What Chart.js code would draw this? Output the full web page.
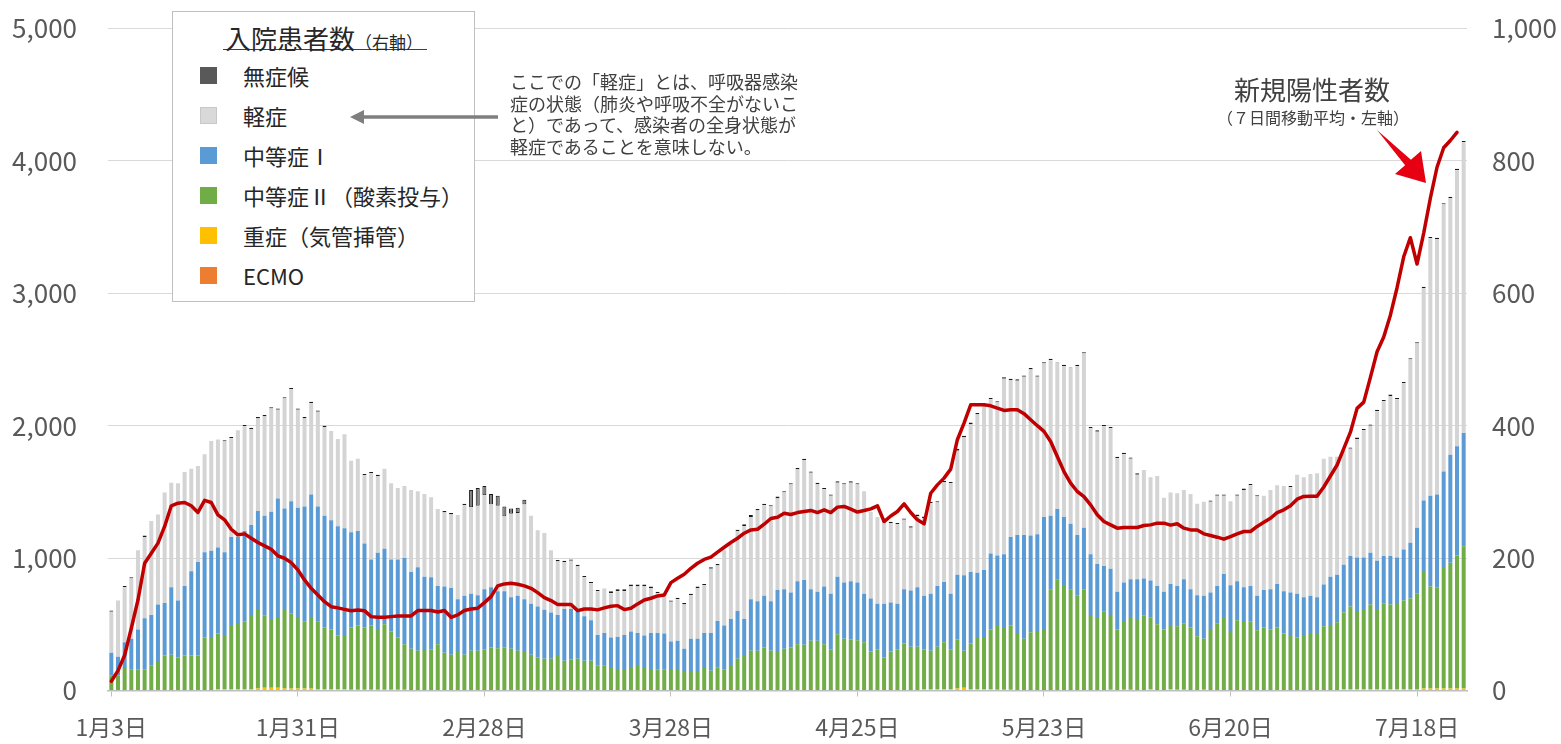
<!DOCTYPE html>
<html><head><meta charset="utf-8">
<script src="https://cdn.jsdelivr.net/npm/chart.js@4.4.1/dist/chart.umd.min.js"></script>
<style>
body{margin:0;background:#fff;}
#wrap{position:relative;width:1561px;height:744px;overflow:hidden;font-family:"Noto Sans CJK JP",sans-serif;color:#262626;}
#c{position:absolute;left:0;top:0;}
#lgbox{position:absolute;left:172px;top:11px;width:301px;height:289px;border:1.5px solid #bfbfbf;background:#fff;}
#lgtitle{position:absolute;left:223px;top:26px;width:204px;height:24px;line-height:24px;font-size:26px;border-bottom:1.5px solid #404040;padding-left:2px;box-sizing:border-box;color:#262626;white-space:nowrap;}
#lgtitle span{font-size:17px;}
.sw{position:absolute;left:200px;width:17px;height:17px;}
.lt{position:absolute;left:243px;font-size:22px;line-height:30px;height:30px;color:#262626;white-space:nowrap;}
#note{position:absolute;left:510px;top:71px;font-size:18px;line-height:21.7px;color:#404040;white-space:nowrap;}
#t1{position:absolute;left:1162px;width:300px;text-align:center;top:73px;font-size:26px;line-height:32px;color:#404040;}
#t2{position:absolute;left:1163px;width:300px;text-align:center;top:106px;font-size:16px;line-height:22px;color:#404040;}
</style></head><body>
<div id="wrap">
<canvas id="c" width="1561" height="744"></canvas>
<div id="lgbox"></div>
<div id="lgtitle">入院患者数<span>（右軸）</span></div>
<div class="sw" style="top:67px;background:#595959"></div><div class="lt" style="top:60px">無症候</div>
<div class="sw" style="top:107px;background:#d9d9d9;border:1px solid #c8c8c8;box-sizing:border-box"></div><div class="lt" style="top:100px">軽症</div>
<div class="sw" style="top:147px;background:#5b9bd5"></div><div class="lt" style="top:140px">中等症Ⅰ</div>
<div class="sw" style="top:187px;background:#70ad47"></div><div class="lt" style="top:180px">中等症Ⅱ（酸素投与）</div>
<div class="sw" style="top:227px;background:#ffc000"></div><div class="lt" style="top:220px">重症（気管挿管）</div>
<div class="sw" style="top:267px;background:#ed7d31"></div><div class="lt" style="top:260px">ECMO</div>
<div id="note">ここでの「軽症」とは、呼吸器感染<br>症の状態（肺炎や呼吸不全がないこ<br>と）であって、感染者の全身状態が<br>軽症であることを意味しない。</div>
<div id="t1">新規陽性者数</div>
<div id="t2">（７日間移動平均・左軸）</div>
<svg width="1561" height="744" style="position:absolute;left:0;top:0;pointer-events:none">
<line x1="498" y1="117" x2="362" y2="117" stroke="#7f7f7f" stroke-width="3.5"/>
<polygon points="350,117 364,110 364,124" fill="#7f7f7f"/>
<polygon points="1377,130 1405.1,165.2 1395,174 1426,183 1421,151 1410.9,159.8" fill="#e60012"/>
</svg>
</div>
<script>
// categories: daily dates from 1月3日 (204 days)
const dates = [];
for (let i = 0; i < 204; i++) { const d = new Date(2021, 0, 3 + i); dates.push((d.getMonth() + 1) + '月' + d.getDate() + '日'); }
const tickLabels = ['1月3日','1月31日','2月28日','3月28日','4月25日','5月23日','6月20日','7月18日'];

// 新規陽性者数（7日間移動平均・左軸）
const newCases = [
 70,150,266,470,684,961,1037,1113,1239,1395,1415,1420,1395,1345,1436,1420,1327,1289,1218,1176,1183,1150,1118,
 1092,1067,1017,999,966,911,835,772,722,671,633,624,613,603,608,603,558,553,553,558,563,563,
 563,604,604,604,593,604,553,571,604,616,621,664,709,790,805,810,803,790,772,739,702,679,650,
 649,649,603,616,616,609,624,636,641,611,621,654,684,697,714,722,815,848,878,923,961,990,
 1007,1045,1082,1118,1150,1188,1213,1218,1256,1299,1309,1339,1329,1344,1352,1360,1344,1365,1344,1385,1390,1370,1348,
 1359,1372,1395,1276,1318,1352,1410,1344,1289,1259,1490,1553,1604,1672,1894,2020,2158,2158,2158,2150,2133,2115,
 2121,2121,2091,2045,2000,1957,1881,1767,1654,1566,1503,1465,1402,1327,1276,1251,1226,1231,1231,1231,1246,1251,1264,
 1264,1249,1259,1226,1213,1213,1183,1171,1158,1143,1163,1183,1201,1201,1239,1270,1301,1344,1365,1395,1445,1466,
 1468,1468,1537,1620,1703,1827,1951,2131,2178,2365,2559,2670,2835,3042,3276,3420,3221,3455,3718,3952,4099,4154,4215,null
];

// 入院患者数（右軸）
const ecmo = [
 0,0,0,0,0,0,0,0,0,0,0,0,0,0,0,0,0,0,0,0,0,0,0,0,0,0,0,0,
 0,0,0,0,0,0,0,0,0,0,0,0,0,0,0,0,0,0,0,0,0,0,0,0,0,0,0,0,
 0,0,0,0,0,0,0,0,0,0,0,0,0,0,0,0,0,0,0,0,0,0,0,0,0,0,0,0,
 0,0,0,0,0,0,0,0,0,0,0,0,0,0,0,0,0,0,0,0,0,0,0,0,0,0,0,0,
 0,0,0,0,0,0,0,0,0,0,0,0,0,0,0,0,0,0,0,0,0,0,0,0,0,0,0,0,
 0,0,0,0,0,0,0,0,0,0,0,0,0,0,0,0,0,0,0,0,0,0,0,0,0,0,0,0,
 0,0,0,0,0,0,0,0,0,0,0,0,0,0,0,0,0,0,0,0,0,0,0,0,0,0,0,0,
 0,0,0,0,0,0,0,0
];
const severe = [
 0,0,0,0,0,0,0,0,0,0,0,0,0,0,0,0,2,2,2,2,2,2,3,4,4,4,3,3,
 3,3,3,2,2,2,2,2,1,1,1,1,1,1,1,1,1,0,0,0,0,0,0,0,0,0,0,0,
 0,0,0,0,0,0,0,0,0,0,0,0,0,0,0,0,0,0,0,0,0,0,0,0,0,0,0,0,
 0,0,0,0,0,0,0,0,0,0,0,0,0,0,0,0,0,0,0,0,0,0,0,0,0,0,0,0,
 0,0,0,0,0,0,0,0,0,0,2,2,2,2,2,3,4,2,2,2,2,1,1,1,0,0,0,0,
 0,0,0,0,0,0,0,0,0,0,1,0,1,1,0,0,2,0,0,2,1,1,0,0,1,0,0,0,
 0,0,0,0,0,0,0,0,0,0,0,0,0,0,0,0,0,2,2,2,2,2,2,2,2,2,2,2,
 2,3,3,3,3,3,3,3
];
const moderate2 = [
 23,23,34,32,32,32,38,43,53,54,50,53,53,53,80,81,84,82,97,100,102,112,120,
 109,104,107,120,113,108,101,108,102,93,90,81,82,94,97,94,97,92,99,88,79,69,
 63,60,61,62,70,57,54,58,54,60,60,62,65,64,65,63,60,58,54,50,48,48,
 52,45,47,48,45,45,38,38,34,31,31,34,37,34,31,32,32,31,31,28,28,28,34,
 30,35,32,37,48,52,60,60,65,60,58,63,65,70,69,75,75,70,62,85,78,77,76,
 73,59,62,50,59,62,71,66,66,60,58,64,71,60,74,56,69,79,79,90,98,
 95,97,87,78,88,90,93,153,168,158,153,143,153,114,111,119,113,92,104,110,108,113,108,
 100,92,97,96,100,95,82,77,93,101,111,90,106,105,104,91,95,92,95,86,84,80,84,
 87,87,97,99,103,116,125,118,121,128,121,129,128,130,134,137,144,176,154,153,182,190,201,215
];
const moderate1 = [
 34,28,39,46,60,77,76,87,79,102,86,105,127,141,129,130,130,125,133,130,137,136,148,
 151,162,179,152,170,165,174,185,174,169,165,165,161,144,143,127,100,115,114,109,118,130,
 116,126,111,109,88,100,101,80,89,86,84,91,91,86,85,78,83,80,77,77,74,70,
 62,78,76,71,67,61,46,49,46,50,53,55,50,49,56,55,54,43,44,35,50,50,53,
 57,70,66,71,72,56,78,75,78,75,94,90,83,95,98,78,74,87,84,87,85,88,87,
 73,80,69,81,74,69,82,85,90,81,86,92,91,84,98,114,108,97,101,115,105,
 110,134,148,157,146,146,169,111,106,104,99,92,93,92,80,69,70,57,58,57,60,56,56,
 58,57,62,61,67,58,62,65,55,57,65,69,59,51,54,52,57,61,66,64,64,66,57,
 56,54,63,73,72,72,76,81,78,78,73,72,73,69,77,84,100,108,137,140,146,163,165,171
];
const mild = [
 62,85,83,91,120,123,142,136,167,158,177,172,155,145,148,166,163,167,149,161,158,145,140,
 150,156,134,166,169,148,133,138,143,134,135,132,142,108,109,103,130,116,121,115,108,109,
 124,115,125,121,116,112,111,127,137,131,135,142,125,129,113,126,125,143,133,115,116,94,
 81,71,73,69,59,56,66,67,67,69,66,69,70,74,67,60,60,60,63,67,66,77,72,
 97,84,114,113,121,140,124,137,137,143,138,146,163,169,181,176,163,147,148,142,148,149,148,
 155,131,131,123,120,120,105,95,107,117,137,126,151,167,187,208,223,239,247,233,231,
 265,237,233,239,251,238,232,235,221,228,235,255,263,190,200,211,212,202,194,182,158,164,156,
 166,142,138,140,135,144,138,142,137,136,118,127,129,147,152,150,142,150,149,159,159,180,181,
 184,187,190,181,178,173,162,179,192,192,226,234,242,239,251,277,278,321,389,386,403,388,417,439
];
const asymptomatic = [
 2,0,2,2,0,2,0,0,0,0,0,0,0,0,0,0,0,2,2,0,2,2,2,
 2,2,2,2,2,2,2,2,2,2,0,0,0,0,0,2,2,2,0,0,0,0,
 0,0,0,0,0,2,2,0,2,26,27,14,16,15,15,8,8,7,0,0,0,0,
 2,2,2,2,2,2,2,0,3,3,3,2,3,3,3,2,0,2,2,2,2,2,2,
 2,2,0,0,2,3,3,2,2,2,3,2,2,2,2,2,2,2,2,2,2,2,2,
 0,0,0,2,2,2,2,2,3,3,2,2,2,2,3,3,3,2,2,2,2,
 2,2,2,2,2,2,2,2,1,2,1,2,2,2,2,2,2,2,2,2,2,0,0,
 0,0,0,0,0,0,0,0,2,2,2,0,2,2,2,2,0,0,0,0,2,0,0,
 0,0,0,0,0,0,2,2,2,2,2,2,2,2,2,2,2,2,2,2,2,2,2,2
];

Chart.defaults.font.family = '"Noto Sans CJK JP", sans-serif';
const xFont = {size: 23};
const yFont = {size: 26};
const bar = (label, data, color, extra) => Object.assign({type:'bar', label, data, backgroundColor: color, yAxisID:'y1', stack:'s', order:1, borderWidth:0}, extra || {});
const noPadV = (s) => { s.paddingTop = 0; s.paddingBottom = 0; };

new Chart(document.getElementById('c'), {
  type: 'bar',
  data: {
    labels: dates,
    datasets: [
      {type:'line', label:'新規陽性者数', data:newCases, yAxisID:'y', borderColor:'#c00000', borderWidth:3.5,
       pointRadius:0, tension:0, order:0, borderJoinStyle:'round', borderCapStyle:'round', fill:false},
      bar('ECMO', ecmo, '#ed7d31'),
      bar('重症（気管挿管）', severe, '#ffc000'),
      bar('中等症Ⅱ（酸素投与）', moderate2, '#70ad47'),
      bar('中等症Ⅰ', moderate1, '#5b9bd5'),
      bar('軽症', mild, '#d4d4d4'),
      bar('無症候', asymptomatic, '#7f7f7f', {borderColor:'#1a1a1a', borderWidth:1, borderSkipped:false})
    ]
  },
  options: {
    responsive:false, animation:false, devicePixelRatio:1,
    layout:{padding:{top:28.5, left:0, right:0, bottom:0}},
    plugins:{legend:{display:false}, tooltip:{enabled:false}},
    datasets:{bar:{barPercentage:0.6, categoryPercentage:1}},
    scales:{
      x:{
        stacked:true, offset:true,
        grid:{offset:false, drawOnChartArea:false, drawTicks:true, tickLength:6,
          color:(ctx)=> tickLabels.includes(dates[ctx.index]) ? '#bfbfbf' : 'rgba(0,0,0,0)'},
        border:{display:true, color:'#bfbfbf', width:1.5},
        ticks:{autoSkip:false, maxRotation:0, minRotation:0, padding:17, color:'#595959', font:xFont,
          callback:function(v){ const l = this.getLabelForValue(v); return tickLabels.includes(l) ? l : ''; }},
        afterFit:(s)=>{ s.height = 53.5; s.paddingLeft = 0; s.paddingRight = 0; }
      },
      y:{
        position:'left', min:0, max:5000,
        ticks:{stepSize:1000, padding:31, color:'#595959', font:yFont, callback:(v)=>v.toLocaleString('en-US')},
        grid:{color:'#d9d9d9', lineWidth:1, drawTicks:false},
        border:{display:false},
        afterFit:(s)=>{ s.width = 108; noPadV(s); }
      },
      y1:{
        position:'right', stacked:true, min:0, max:1000,
        ticks:{stepSize:200, padding:25, color:'#595959', font:yFont, callback:(v)=>v.toLocaleString('en-US')},
        grid:{drawOnChartArea:false, drawTicks:false},
        border:{display:false},
        afterFit:(s)=>{ s.width = 94; noPadV(s); }
      }
    }
  }
});
</script>
</body></html>
